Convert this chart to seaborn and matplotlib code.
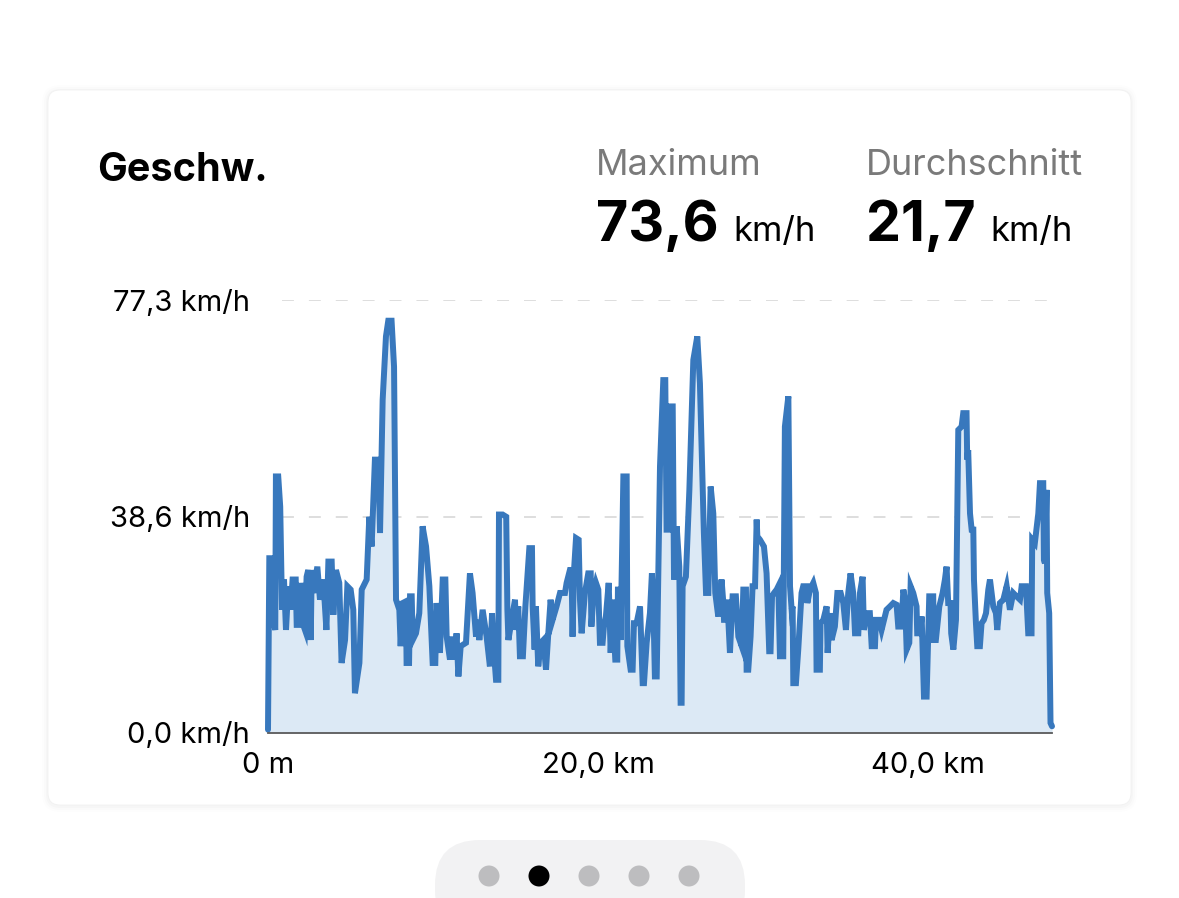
import matplotlib
matplotlib.use("Agg")
import matplotlib.pyplot as plt
from matplotlib.patches import FancyBboxPatch, Circle
from matplotlib.transforms import IdentityTransform
import seaborn as sns
import pandas as pd

# distance along the ride (km) and speed (km/h)
distance_km = [
    0.00, 0.08, 0.24, 0.32, 0.44, 0.48, 0.62, 0.74, 0.85, 0.97, 1.09, 1.23, 1.37, 1.49, 1.68,
    1.74, 1.94, 1.98, 2.10, 2.24, 2.34, 2.44, 2.59, 2.65, 2.75, 2.99, 3.15, 3.35, 3.54, 3.66,
    3.86, 3.96, 4.12, 4.32, 4.46, 4.67, 4.81, 5.01, 5.17, 5.27, 5.54, 5.68, 5.98, 6.14, 6.28,
    6.48, 6.69, 6.79, 6.95, 7.15, 7.29, 7.49, 7.64, 7.76, 7.96, 8.04, 8.16, 8.36, 8.40, 8.55,
    8.61, 8.71, 8.77, 8.97, 9.17, 9.37, 9.58, 9.78, 9.98, 10.14, 10.22, 10.42, 10.59, 10.75, 10.83,
    11.03, 11.19, 11.31, 11.43, 11.54, 11.68, 12.00, 12.24, 12.40, 12.61, 12.69, 12.81, 13.01, 13.25, 13.45,
    13.58, 13.70, 13.82, 13.96, 14.00, 14.22, 14.44, 14.51, 14.57, 14.77, 14.97, 15.03, 15.17, 15.27, 15.45,
    15.60, 15.84, 16.00, 16.04, 16.16, 16.24, 16.38, 16.53, 16.69, 16.85, 16.99, 17.13, 17.25, 17.49, 17.70,
    18.00, 18.10, 18.30, 18.40, 18.46, 18.55, 18.67, 18.83, 18.91, 19.01, 19.21, 19.41, 19.56, 19.60, 19.72,
    19.88, 20.02, 20.12, 20.28, 20.36, 20.48, 20.65, 20.77, 20.89, 20.97, 21.05, 21.17, 21.21, 21.33, 21.37,
    21.54, 21.74, 21.78, 21.98, 22.10, 22.18, 22.34, 22.55, 22.71, 22.79, 22.95, 23.15, 23.27, 23.35, 23.45,
    23.56, 23.76, 23.96, 24.08, 24.16, 24.32, 24.36, 24.53, 24.61, 24.77, 24.93, 25.01, 25.07, 25.13, 25.33,
    25.54, 25.78, 26.02, 26.18, 26.42, 26.55, 26.69, 26.83, 26.99, 27.11, 27.29, 27.49, 27.60, 27.64, 27.76,
    27.84, 28.00, 28.16, 28.36, 28.51, 28.71, 28.81, 28.97, 29.01, 29.11, 29.25, 29.37, 29.52, 29.62, 29.66,
    29.82, 30.06, 30.22, 30.38, 30.46, 30.55, 30.67, 30.83, 30.93, 31.03, 31.23, 31.33, 31.54, 31.64, 31.74,
    31.80, 31.84, 32.00, 32.14, 32.34, 32.44, 32.65, 32.69, 32.85, 33.05, 33.21, 33.25, 33.45, 33.49, 33.66,
    33.86, 33.92, 34.06, 34.16, 34.36, 34.51, 34.71, 34.87, 35.03, 35.17, 35.31, 35.47, 35.58, 35.78, 35.88,
    36.04, 36.12, 36.28, 36.48, 36.59, 36.79, 36.85, 37.05, 37.19, 37.49, 37.70, 37.90, 38.10, 38.20, 38.40,
    38.51, 38.61, 38.71, 38.87, 38.95, 39.11, 39.31, 39.35, 39.52, 39.62, 39.76, 39.92, 40.08, 40.32, 40.36,
    40.48, 40.69, 40.89, 41.03, 41.13, 41.23, 41.37, 41.41, 41.54, 41.70, 41.84, 42.04, 42.14, 42.34, 42.38,
    42.44, 42.55, 42.65, 42.75, 42.79, 42.91, 42.99, 43.15, 43.25, 43.39, 43.52, 43.66, 43.76, 43.96, 44.12,
    44.20, 44.36, 44.57, 44.77, 44.97, 45.17, 45.37, 45.58, 45.68, 45.94, 46.08, 46.28, 46.32, 46.48, 46.69,
    46.79, 46.99, 47.03, 47.09, 47.19, 47.23, 47.35, 47.43, 47.52,
]
speed_kmh = [
    0.6, 31.2, 31.2, 20.2, 18.4, 45.8, 45.8, 40.4, 22.0, 27.4, 18.4, 26.2, 22.0, 27.4, 27.4,
    19.3, 19.3, 26.8, 19.6, 18.4, 27.9, 29.1, 16.6, 29.1, 25.0, 29.7, 23.8, 27.4, 18.4, 30.6,
    30.6, 21.1, 29.1, 26.8, 12.5, 16.6, 26.2, 25.6, 22.0, 7.1, 12.5, 25.6, 27.4, 38.6, 33.3,
    48.8, 48.8, 35.7, 59.5, 70.8, 73.6, 73.6, 65.4, 23.8, 22.0, 15.5, 23.2, 23.5, 12.5, 12.5,
    24.4, 24.4, 16.6, 17.8, 21.4, 36.9, 33.3, 26.2, 12.5, 12.5, 23.2, 14.3, 27.4, 27.4, 17.2,
    13.1, 17.2, 13.1, 17.8, 10.1, 15.5, 16.1, 28.5, 25.0, 17.2, 20.2, 16.6, 22.0, 17.2, 11.9,
    21.4, 14.3, 9.5, 9.5, 39.0, 39.0, 38.6, 22.0, 16.6, 20.2, 23.8, 18.4, 22.6, 13.7, 13.7,
    22.6, 33.0, 33.0, 22.6, 14.9, 22.6, 11.9, 16.1, 16.6, 11.3, 17.8, 23.8, 20.2, 22.6, 25.0,
    25.0, 26.8, 29.1, 29.1, 17.2, 29.1, 34.8, 34.5, 23.8, 17.8, 25.0, 28.5, 28.5, 19.0, 24.4,
    26.8, 25.6, 16.1, 16.1, 19.0, 20.8, 26.8, 14.3, 23.8, 17.8, 13.1, 13.1, 25.6, 25.6, 16.6,
    45.8, 45.8, 15.5, 11.3, 11.3, 19.6, 19.6, 22.6, 8.9, 8.9, 16.1, 21.4, 28.5, 23.8, 10.1,
    10.1, 47.6, 63.0, 63.0, 36.3, 36.3, 58.3, 58.3, 27.4, 36.9, 29.7, 5.4, 5.4, 26.2, 27.9,
    43.4, 66.6, 70.8, 62.4, 35.7, 25.0, 25.0, 44.0, 39.2, 25.0, 20.8, 27.4, 23.2, 20.2, 20.2,
    23.8, 14.3, 24.4, 24.4, 17.2, 15.5, 25.6, 25.6, 11.3, 11.3, 17.2, 26.2, 26.2, 38.1, 35.1,
    34.5, 33.3, 28.5, 14.6, 14.6, 24.4, 25.0, 25.6, 26.2, 13.7, 13.7, 54.7, 60.1, 26.2, 22.0,
    22.6, 8.9, 8.9, 14.9, 25.0, 26.2, 26.2, 23.2, 25.6, 26.8, 25.0, 11.3, 11.3, 19.6, 20.2,
    22.6, 14.3, 21.4, 16.6, 19.0, 25.0, 25.0, 23.2, 18.4, 25.0, 28.5, 25.0, 17.8, 17.8, 25.0,
    27.9, 18.4, 21.4, 21.4, 15.5, 15.5, 20.2, 20.2, 18.4, 22.0, 22.6, 23.2, 22.9, 19.0, 19.0,
    25.6, 23.8, 14.9, 16.1, 26.2, 25.0, 22.6, 17.8, 17.8, 20.8, 6.5, 6.5, 24.4, 24.4, 16.6,
    16.6, 22.6, 25.0, 27.4, 29.7, 23.2, 23.2, 17.8, 14.9, 20.2, 54.1, 54.7, 57.1, 57.1, 48.8,
    50.5, 39.2, 36.3, 36.3, 27.4, 19.6, 15.5, 15.5, 19.6, 20.2, 21.4, 25.6, 27.4, 22.6, 21.4,
    18.4, 23.2, 23.8, 26.2, 22.0, 25.0, 24.4, 23.8, 26.2, 26.2, 17.8, 17.8, 34.5, 33.9, 39.2,
    44.6, 44.6, 30.9, 30.3, 43.4, 25.0, 21.4, 1.8, 1.2,
]

y_ticks = [0.0, 38.6, 77.3]
y_tick_labels = ["0,0 km/h", "38,6 km/h", "77,3 km/h"]
x_ticks = [0, 20, 40]
x_tick_labels = ["0 m", "20,0 km", "40,0 km"]
x_max = 47.52

title = "Geschw."
stat_names = ["Maximum", "Durchschnitt"]
stat_values = ["73,6", "21,7"]
stat_unit = "km/h"

line_color = "#3878bd"
fill_color = "#dce9f5"

df = pd.DataFrame({"km": distance_km, "speed": speed_kmh})

sns.set_style("white")
plt.rcParams["font.family"] = ["Inter", "DejaVu Sans"]

W, H = 1179, 898
fig = plt.figure(figsize=(W / 100, H / 100), dpi=100)
fig.patch.set_facecolor("white")


def box(x0, y0, x1, y1, r, **kw):
    # rectangle in pixel coords measured from the top left
    p = FancyBboxPatch((x0 + r, H - y1 + r), (x1 - x0) - 2 * r, (y1 - y0) - 2 * r,
                       boxstyle=f"round,pad={r}", transform=IdentityTransform(), **kw)
    fig.patches.append(p)


# card with a very soft shadow
for i, a in enumerate([0.008, 0.012, 0.016]):
    g = 6 - 2 * i
    box(48 - g, 90 - g + 1, 1131 + g, 805 + g + 1, 12 + g, facecolor="black", edgecolor="none", alpha=a, zorder=0)
box(48, 90, 1131, 805, 12, facecolor="white", edgecolor="#f1f1f1", lw=0.6, zorder=1)

# page indicator
box(435, 840, 745, 935, 45, facecolor="#f2f2f3", edgecolor="none", zorder=1)
for i, cx in enumerate(range(489, 690, 50)):
    fig.patches.append(Circle((cx, H - 876), 10.5, transform=IdentityTransform(),
                              facecolor="black" if i == 1 else "#bdbdbf", edgecolor="none", zorder=2))

ax = fig.add_axes([268 / W, 1 - 733 / H, 784 / W, 433 / H])
ax.set_facecolor("none")
ax.set_zorder(3)

ax.fill_between(df["km"], 0, df["speed"], color=fill_color, lw=0, zorder=1)
sns.lineplot(data=df, x="km", y="speed", ax=ax, color=line_color, lw=4.3,
             estimator=None, sort=False, zorder=3, solid_joinstyle="miter")
for lines in ax.get_lines():
    lines.set_clip_on(False)

for yv in y_ticks[1:]:
    ax.axhline(yv, xmin=0.018, xmax=0.994, color="#d4d4d4", lw=1.1,
               linestyle=(0, (7.8, 9.8)), zorder=0)

ax.set_xlim(0, x_max)
ax.set_ylim(0, 77.3)
ax.set_yticks(y_ticks)
ax.set_yticklabels(y_tick_labels)
ax.set_xticks(x_ticks)
ax.set_xticklabels(x_tick_labels)
ax.tick_params(axis="y", length=0, pad=13, labelsize=21, labelcolor="black")
ax.tick_params(axis="x", length=0, pad=14, labelsize=21, labelcolor="black")
ax.set_xlabel("")
ax.set_ylabel("")
for s in ["top", "right", "left"]:
    ax.spines[s].set_visible(False)
ax.spines["bottom"].set_color("#5a5a5a")
ax.spines["bottom"].set_linewidth(1.3)
ax.spines["bottom"].set_zorder(4)

# header texts
fig.text(97 / W, 1 - 181 / H, title, fontsize=28.5, fontweight="bold", color="black", va="baseline")
for name, value, x0 in zip(stat_names, stat_values, [596, 866]):
    fig.text(x0 / W, 1 - 175 / H, name, fontsize=26, color="#7a7a7a", va="baseline")
    t = fig.text(x0 / W, 1 - 241 / H, value, fontsize=40, fontweight="bold", color="black", va="baseline")
    fig.canvas.draw()
    bb = t.get_window_extent()
    fig.text((bb.x1 + 15) / W, 1 - 241 / H, stat_unit, fontsize=25, color="black", va="baseline")

fig.savefig("out.png", dpi=100, facecolor="white")
